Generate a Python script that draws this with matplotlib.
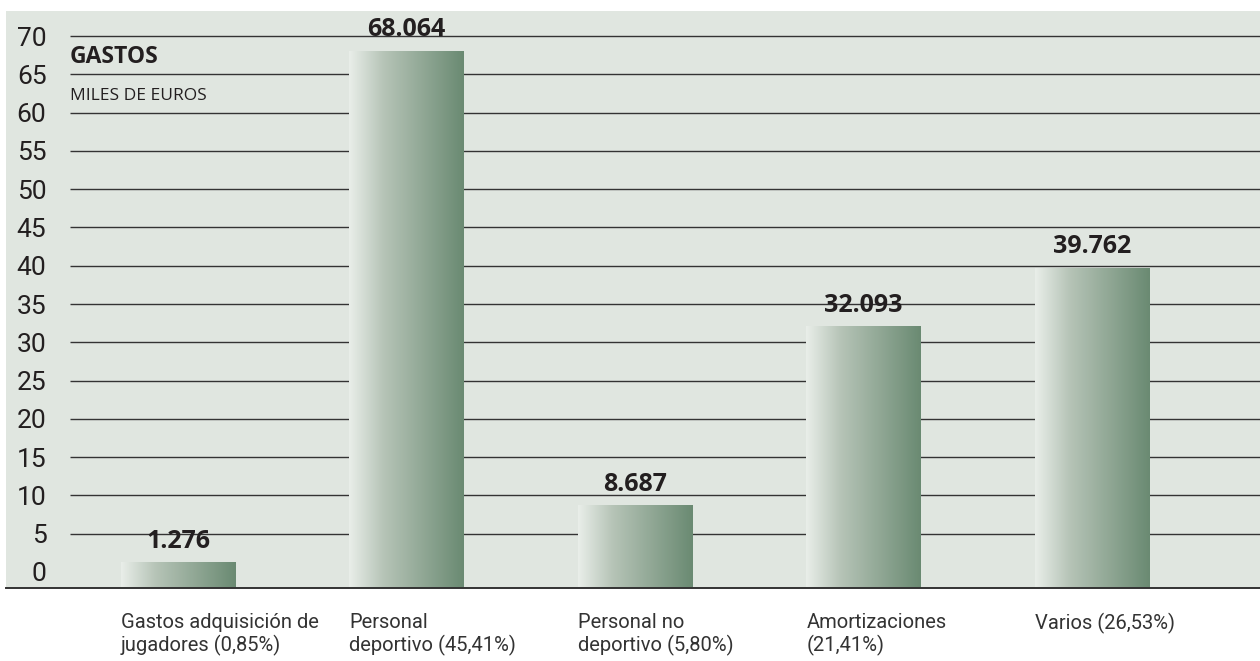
import numpy as np
import matplotlib
matplotlib.use("Agg")
import matplotlib.pyplot as plt
from matplotlib.colors import LinearSegmentedColormap
from matplotlib.patches import Rectangle
from matplotlib.lines import Line2D
import matplotlib.transforms as mtransforms

# datos
categorias = ["Gastos adquisición de\njugadores (0,85%)",
              "Personal\ndeportivo (45,41%)",
              "Personal no\ndeportivo (5,80%)",
              "Amortizaciones\n(21,41%)",
              "Varios (26,53%)"]
valores = [1.276, 68.064, 8.687, 32.093, 39.762]
etiquetas = ["1.276", "68.064", "8.687", "32.093", "39.762"]
ticks_y = list(range(0, 75, 5))

fondo = "#e0e6e0"
texto = "#231f20"
degradado = LinearSegmentedColormap.from_list(
    "verde", [(0, "#e9eee9"), (0.3, "#b6c4b7"), (1, "#6a8a72")])

W, H = 1260, 661
fig = plt.figure(figsize=(W / 100, H / 100), dpi=100)
fig.patch.set_facecolor("white")

# fondo gris detras de todo (incluye zona de etiquetas del eje y)
fig.patches.append(Rectangle((6 / W, (H - 588) / H), 1 - 6 / W, (588 - 11) / H,
                             transform=fig.transFigure, facecolor=fondo,
                             edgecolor="none", zorder=-10))

ax = fig.add_axes([70 / W, (H - 588) / H, 1 - 70 / W, (588 - 11) / H])
ax.set_zorder(1)
ax.set_facecolor("none")
ymin, ymax = -2.09, 73.27
xmin, xmax = -0.473, 4.735

x = np.arange(len(valores))
ancho = 0.5

# lineas horizontales (sin la del 0)
ax.hlines([t for t in ticks_y if t > 0], xmin, xmax, colors="#333333",
          linewidth=1.0, zorder=1)

grad = np.linspace(0, 1, 256).reshape(1, -1)
for xi, v, lab in zip(x, valores, etiquetas):
    barra = ax.bar(xi, v - ymin, bottom=ymin, width=ancho, color="none",
                   edgecolor="none", zorder=2)[0]
    im = ax.imshow(grad, cmap=degradado, aspect="auto", zorder=2,
                   extent=(xi - ancho / 2, xi + ancho / 2, ymin, v))
    im.set_clip_path(barra)
    ax.annotate(lab, (xi, v), xytext=(0, 10.5), textcoords="offset points",
                ha="center", va="baseline", fontsize=18, fontweight="bold",
                color=texto, family=["Open Sans", "DejaVu Sans"], zorder=4)

ax.set_xlim(xmin, xmax)
ax.set_ylim(ymin, ymax)
ax.set_yticks(ticks_y)
ax.set_yticklabels([str(t) for t in ticks_y],
                   family=["Roboto", "DejaVu Sans"],
                   fontsize=19, color=texto)
ax.tick_params(axis="y", length=0, pad=17)
ax.set_xticks([])
for s in ax.spines.values():
    s.set_visible(False)

# linea base desde el borde del fondo
fig.lines.append(Line2D([6 / W, 1], [(H - 588) / H] * 2, transform=fig.transFigure,
                        color="#333333", linewidth=1.4, zorder=5))

# etiquetas de categoria, alineadas a la izquierda de cada barra
trans = mtransforms.blended_transform_factory(ax.transData, ax.transAxes)
for xi, c in zip(x, categorias):
    ax.text(xi - ancho / 2, -0.043, c, transform=trans, ha="left", va="top",
            fontsize=14.5, color="#333333", linespacing=1.2,
            family=["Roboto", "DejaVu Sans"])

# titulo interno
fig.text(70 / W, 1 - 63 / H, "GASTOS", fontsize=16.5, fontweight="bold",
         color=texto, ha="left", va="baseline", family=["Open Sans", "DejaVu Sans"])
fig.text(70 / W, 1 - 100 / H, "MILES DE EUROS", fontsize=12.5, color=texto,
         ha="left", va="baseline", family=["Open Sans", "DejaVu Sans"])

fig.savefig("out.png", dpi=100)
